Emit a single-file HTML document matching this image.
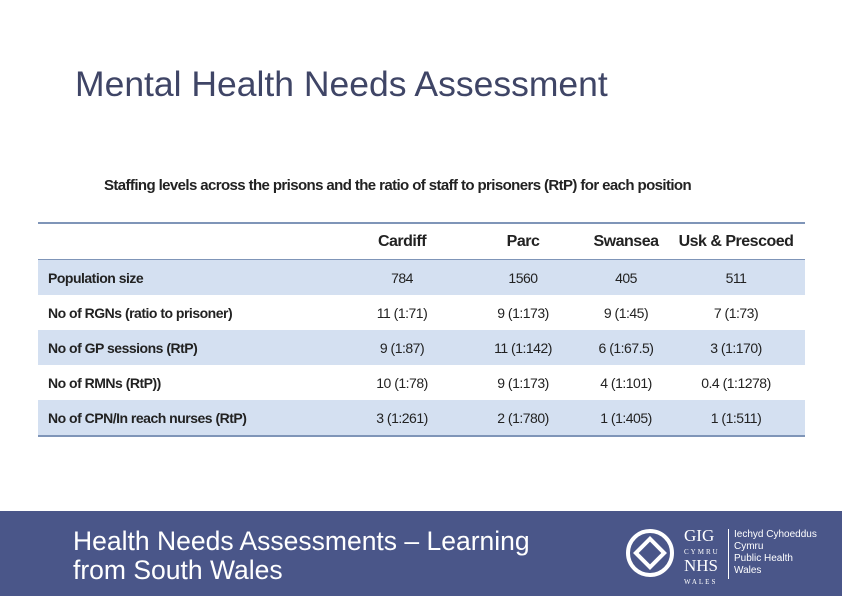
<!DOCTYPE html>
<html><head><meta charset="utf-8"><style>
body{margin:0;width:842px;height:596px;position:relative;background:#fff;font-family:"Liberation Sans",sans-serif;overflow:hidden}
.title{position:absolute;left:75px;top:64px;font-size:35.5px;color:#3f4566}
.sub{position:absolute;left:104px;top:177px;font-size:15px;font-weight:bold;color:#222;letter-spacing:-0.6px}
.tbl{position:absolute;left:38px;top:222px;width:767px;border-top:2px solid #7f95b8;border-bottom:2px solid #7f95b8}
.row{position:relative;height:35px;font-size:14px;color:#222;letter-spacing:-0.5px}
.row.b{background:#d4e0f1}
.row.h{height:35px;border-bottom:1px solid #7f95b8;font-weight:bold;font-size:16px}
.row span{position:absolute;top:50%;transform:translate(-50%,-50%);white-space:nowrap}
.row span.l{left:10px;transform:translateY(-50%);font-weight:bold}
.footer{position:absolute;left:0;top:511px;width:842px;height:85px;background:#4a5689}
.ft{position:absolute;left:73px;top:16px;color:#fff;font-size:26.5px;line-height:29px}
.logo{position:absolute;left:620px;top:12px;color:#fff}
</style></head><body>
<div class="title">Mental Health Needs Assessment</div>
<div class="sub">Staffing levels across the prisons and the ratio of staff to prisoners (RtP) for each position</div>
<div class="tbl">
<div class="row h"><span style="left:364px">Cardiff</span><span style="left:485px">Parc</span><span style="left:588px">Swansea</span><span style="left:698px">Usk &amp; Prescoed</span></div>
<div class="row b"><span class="l">Population size</span><span style="left:364px">784</span><span style="left:485px">1560</span><span style="left:588px">405</span><span style="left:698px">511</span></div>
<div class="row"><span class="l">No of RGNs (ratio to prisoner)</span><span style="left:364px">11 (1:71)</span><span style="left:485px">9 (1:173)</span><span style="left:588px">9 (1:45)</span><span style="left:698px">7 (1:73)</span></div>
<div class="row b"><span class="l">No of GP sessions (RtP)</span><span style="left:364px">9 (1:87)</span><span style="left:485px">11 (1:142)</span><span style="left:588px">6 (1:67.5)</span><span style="left:698px">3 (1:170)</span></div>
<div class="row"><span class="l">No of RMNs (RtP))</span><span style="left:364px">10 (1:78)</span><span style="left:485px">9 (1:173)</span><span style="left:588px">4 (1:101)</span><span style="left:698px">0.4 (1:1278)</span></div>
<div class="row b"><span class="l">No of CPN/In reach nurses (RtP)</span><span style="left:364px">3 (1:261)</span><span style="left:485px">2 (1:780)</span><span style="left:588px">1 (1:405)</span><span style="left:698px">1 (1:511)</span></div>
</div>
<div class="footer">
<div class="ft">Health Needs Assessments – Learning<br>from South Wales</div>
<div class="logo">
<svg width="60" height="60" style="position:absolute;left:0;top:0"><g fill="none" stroke="#fff" stroke-width="4"><circle cx="30" cy="30" r="22"/><rect x="20" y="20" width="20" height="20" transform="rotate(45 30 30)"/></g></svg>
<div style="position:absolute;left:64px;top:6px;font-family:'Liberation Serif',serif;font-size:17px;line-height:13px;width:42px">GIG<br><span style="font-size:7px;letter-spacing:2px">CYMRU</span><br>NHS<br><span style="font-size:7px;letter-spacing:2px">WALES</span></div>
<div style="position:absolute;left:108px;top:6px;width:1px;height:50px;background:#fff"></div>
<div style="position:absolute;left:114px;top:6px;font-size:10px;line-height:12px;white-space:nowrap">Iechyd Cyhoeddus<br>Cymru<br>Public Health<br>Wales</div>
</div>
</div>
</body></html>
